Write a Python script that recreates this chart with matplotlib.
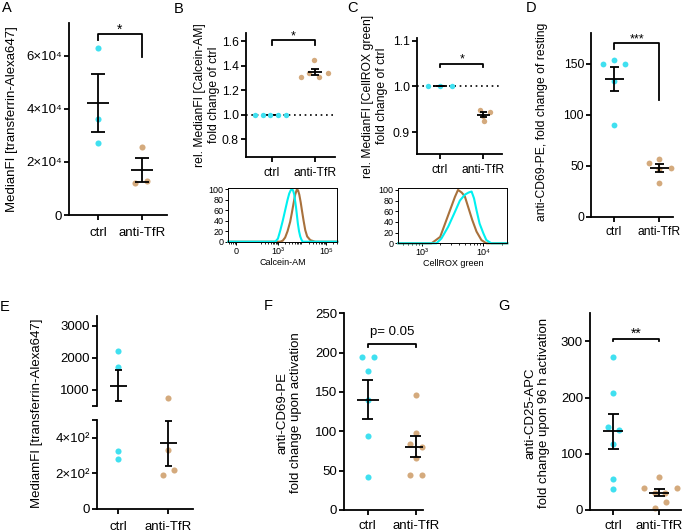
import numpy as np
import matplotlib
matplotlib.use('Agg')
import matplotlib.pyplot as plt
from matplotlib.ticker import FixedLocator, NullFormatter

plt.rcParams['font.family'] = ['Liberation Sans', 'DejaVu Sans']

groups = ['ctrl', 'anti-TfR']

# A: MedianFI transferrin-Alexa647
a_ctrl = [63100, 36300, 27300]
a_tfr = [25800, 12200, 12800]
# B: Calcein-AM, fold change of ctrl
b_ctrl = [1.0, 1.0, 1.0, 1.0, 1.0]
b_tfr = [1.443, 1.304, 1.337, 1.307, 1.343]
# C: CellROX green, fold change of ctrl
c_ctrl = [1.0, 1.0, 1.0]
c_tfr = [0.948, 0.944, 0.925, 0.936]
# D: anti-CD69-PE fold change of resting
d_ctrl = [150, 153.5, 149.6, 133.5, 89.6]
d_tfr = [52.5, 56.5, 48.2, 47, 33.5]
# E: transferrin-Alexa647 (broken axis)
e_ctrl = [2210, 1710, 325, 280]
e_tfr = [735, 330, 220, 190]
# F: anti-CD69-PE fold change upon activation
f_ctrl = [194, 194, 176.6, 139.3, 94.5, 42.4]
f_tfr = [146.6, 98, 84, 79.6, 65.5, 44.3, 44.3]
# G: anti-CD25-APC fold change upon 96 h activation
g_ctrl = [272.3, 208.8, 147.3, 142.7, 117, 54.6, 36.8]
g_tfr = [58, 39, 39.6, 30.2, 30.8, 13.6, 4]

# histograms (log10 fluorescence, % of max)
b_hist_ctrl_log = [2.89, 3.0, 3.10, 3.2, 3.30, 3.40, 3.47, 3.53, 3.58, 3.63, 3.68, 3.75, 3.80, 3.83, 3.88, 3.93, 3.98, 4.03]
b_hist_ctrl_y = [0, 6, 22, 40, 60, 80, 92, 98, 100, 98, 90, 67, 47, 35, 20, 10, 4, 0]
b_hist_tfr_log = [3.10, 3.2, 3.30, 3.4, 3.51, 3.58, 3.65, 3.72, 3.79, 3.84, 3.89, 3.95, 4.00, 4.07, 4.14, 4.22, 4.35, 4.55]
b_hist_tfr_y = [0, 2, 8, 20, 38, 55, 73, 90, 100, 98, 90, 75, 60, 40, 22, 10, 3, 0]
c_hist_ctrl_log = [3.24, 3.32, 3.43, 3.54, 3.62, 3.70, 3.76, 3.81, 3.85, 3.89, 3.94, 4.00, 4.05, 4.13]
c_hist_ctrl_y = [0, 9, 31, 59, 80, 91, 95, 97, 84, 62, 37, 19, 6, 0]
c_hist_tfr_log = [3.16, 3.30, 3.38, 3.46, 3.54, 3.59, 3.65, 3.70, 3.76, 3.82, 3.89, 3.97, 4.05]
c_hist_tfr_y = [0, 12, 37, 62, 87, 100, 95, 88, 66, 44, 22, 6, 0]

# horizontal spread of dots (layout only)
a_ctrl_dx = [0, 0, 0]
a_tfr_dx = [0, -0.15, 0.11]
b_ctrl_dx = [-0.38, -0.21, -0.04, 0.15, 0.33]
b_tfr_dx = [-0.02, -0.33, 0.30, 0.09, -0.14]
c_ctrl_dx = [-0.28, 0, 0.28]
c_tfr_dx = [-0.09, 0.14, 0.02, 0.0]
d_ctrl_dx = [-0.25, 0, 0.24, 0, 0]
d_tfr_dx = [-0.24, 0, 0.25, 0, 0]
e_ctrl_dx = [0, 0, 0, 0]
e_tfr_dx = [0, 0, 0.11, -0.11]
f_ctrl_dx = [-0.125, 0.125, 0, 0, 0, 0]
f_tfr_dx = [0, 0, -0.125, 0.125, 0, -0.125, 0.125]
g_ctrl_dx = [0, 0, -0.12, 0.13, 0, 0, 0]
g_tfr_dx = [0, -0.33, 0.39, -0.1, 0.13, 0.15, -0.1]

CYAN = '#40E0F0'
TAN = '#D4AA7D'
HCYAN = '#00F0F0'
HBROWN = '#A8713C'
LW = 1.3

W, H = 685, 532
fig = plt.figure(figsize=(W / 100, H / 100), dpi=100)


def add_ax(l, r, t, b):
    return fig.add_axes([l / W, 1 - b / H, (r - l) / W, (b - t) / H])


def style(ax, fs, xpad, xlim):
    ax.spines[['top', 'right']].set_visible(False)
    ax.spines[['left', 'bottom']].set_linewidth(LW)
    ax.tick_params(width=LW, length=3.5, labelsize=fs, pad=1.5)
    ax.tick_params(axis='x', pad=xpad)
    ax.set_xticks([0, 1], groups)
    ax.set_xlim(*xlim)


def dots(ax, x0, vals, dx, color, ms, clip=False):
    ax.plot(x0 + np.asarray(dx), vals, 'o', ms=ms, color=color, mec='none',
            zorder=2, clip_on=clip)


def mean_sem(ax, x0, vals, hm, hc, z=3):
    v = np.asarray(vals, float)
    m = v.mean()
    s = v.std(ddof=1) / np.sqrt(len(v))
    ax.hlines(m, x0 - hm, x0 + hm, color='k', lw=LW, zorder=z)
    ax.vlines(x0, m - s, m + s, color='k', lw=LW, zorder=z)
    ax.hlines([m - s, m + s], x0 - hc, x0 + hc, color='k', lw=LW, zorder=z)


def bracket(ax, y, yl, yr, label, fs, dy=0.5):
    ax.plot([0, 0, 1, 1], [yl, y, y, yr], color='k', lw=LW, clip_on=False)
    ax.annotate(label, (0.5, y), xytext=(0, dy), textcoords='offset points',
                ha='center', va='baseline', fontsize=fs)


def ylab(x, y, s, fs):
    fig.text(x / W, 1 - y / H, s, rotation=90, ha='center', va='center',
             fontsize=fs, linespacing=1.15)


def letter(x, y, s):
    fig.text(x / W, 1 - y / H, s, ha='center', va='center', fontsize=10.5)


# ---- A
ax = add_ax(69, 167, 23, 215)
style(ax, 9.5, 5, (-0.66, 1.57))
ax.set_ylim(0, 72400)
ax.set_yticks([0, 20000, 40000, 60000], ['0', '2×10⁴', '4×10⁴', '6×10⁴'])
dots(ax, 0, a_ctrl, a_ctrl_dx, CYAN, 4.4)
dots(ax, 1, a_tfr, a_tfr_dx, TAN, 4.4)
mean_sem(ax, 0, a_ctrl, 0.26, 0.16)
mean_sem(ax, 1, a_tfr, 0.26, 0.16)
bracket(ax, 68200, 66000, 59400, '*', 10)
ylab(12.5, 119, 'MedianFI [transferrin-Alexa647]', 9.5)

# ---- B
ax = add_ax(245.7, 335, 33, 156.7)
style(ax, 8.7, 4, (-0.6, 1.46))
ax.set_ylim(0.657, 1.666)
ax.set_yticks([0.8, 1.0, 1.2, 1.4, 1.6], ['0.8', '1.0', '1.2', '1.4', '1.6'])
ax.axhline(1.0, color='k', lw=1.2, ls=(0, (1, 2.2)), zorder=1)
mean_sem(ax, 0, b_ctrl, 0.16, 0.09, z=1)
dots(ax, 0, b_ctrl, b_ctrl_dx, CYAN, 3.9)
dots(ax, 1, b_tfr, b_tfr_dx, TAN, 3.9)
mean_sem(ax, 1, b_tfr, 0.16, 0.09)
bracket(ax, 1.606, 1.57, 1.57, '*', 9)
ylab(207, 95, 'rel. MedianFI [Calcein-AM]\nfold change of ctrl', 8.7)

# B histogram
ax = add_ax(228.3, 337.3, 188.3, 241.7)
ax.set_xscale('symlog', linthresh=100, linscale=0.666)
bx0, bx1 = -45, 3e5
for lg, yy, col in [(b_hist_tfr_log, b_hist_tfr_y, HBROWN), (b_hist_ctrl_log, b_hist_ctrl_y, HCYAN)]:
    xs = [bx0] + list(10 ** np.asarray(lg)) + [bx1]
    ys = [0] + list(yy) + [0]
    ax.plot(xs, ys, color=col, lw=1.5, clip_on=False)
ax.set_xticks([0, 1e3, 1e5], ['0', '10³', '10⁵'])
ax.xaxis.set_minor_locator(FixedLocator([-40, -30, -20, -10] +
                                        [k * 10 ** e for e in (2, 3, 4) for k in range(2, 10)] + [2e5, 3e5]))
ax.xaxis.set_minor_formatter(NullFormatter())
ax.set_xlim(bx0, bx1)
ax.set_ylim(0, 102)
ax.set_yticks([0, 20, 40, 60, 80, 100])
ax.tick_params(labelsize=6.5, length=2.5, width=0.7, pad=1)
ax.tick_params(which='minor', length=1.5, width=0.6)
for s in ax.spines.values():
    s.set_linewidth(0.7)
ax.set_xlabel('Calcein-AM', fontsize=6.5, labelpad=1.5)

# ---- C
ax = add_ax(416.7, 501.7, 38.3, 154.3)
style(ax, 8.7, 3.5, (-0.54, 1.42))
ax.set_ylim(0.852, 1.105)
ax.set_yticks([0.9, 1.0, 1.1], ['0.9', '1.0', '1.1'])
ax.axhline(1.0, color='k', lw=1.2, ls=(0, (1, 2.2)), zorder=1)
mean_sem(ax, 0, c_ctrl, 0.16, 0.09)
dots(ax, 0, c_ctrl, c_ctrl_dx, CYAN, 3.9)
dots(ax, 1, c_tfr, c_tfr_dx, TAN, 3.9)
mean_sem(ax, 1, c_tfr, 0.16, 0.09)
bracket(ax, 1.050, 1.043, 1.043, '*', 9)
ylab(375, 96, 'rel. MedianFI [CellROX green]\nfold change of ctrl', 8.7)

# C histogram
ax = add_ax(398.3, 507.3, 188.3, 243.3)
ax.set_xscale('log')
cx0, cx1 = 10 ** 2.62, 10 ** 4.39
for lg, yy, col in [(c_hist_tfr_log, c_hist_tfr_y, HBROWN), (c_hist_ctrl_log, c_hist_ctrl_y, HCYAN)]:
    xs = [cx0] + list(10 ** np.asarray(lg)) + [cx1]
    ys = [0] + list(yy) + [0]
    ax.plot(xs, ys, color=col, lw=1.5, clip_on=False)
ax.set_xticks([1e3, 1e4], ['10³', '10⁴'])
ax.xaxis.set_minor_formatter(NullFormatter())
ax.set_xlim(cx0, cx1)
ax.set_ylim(0, 103)
ax.set_yticks([0, 20, 40, 60, 80, 100])
ax.tick_params(labelsize=6.5, length=2.5, width=0.7, pad=1)
ax.tick_params(which='minor', length=1.5, width=0.6)
for s in ax.spines.values():
    s.set_linewidth(0.7)
ax.set_xlabel('CellROX green', fontsize=6.5, labelpad=1.5)

# ---- D
ax = add_ax(591, 673, 33.3, 216.7)
style(ax, 8.7, 3.5, (-0.51, 1.3))
ax.set_ylim(0, 180)
ax.set_yticks([0, 50, 100, 150])
dots(ax, 0, d_ctrl, d_ctrl_dx, CYAN, 4.2)
dots(ax, 1, d_tfr, d_tfr_dx, TAN, 4.2)
mean_sem(ax, 0, d_ctrl, 0.21, 0.1)
mean_sem(ax, 1, d_tfr, 0.21, 0.1)
bracket(ax, 170, 164.8, 114.9, '***', 9)
ylab(542, 122, 'anti-CD69-PE, fold change of resting', 8.7)

# ---- E (broken axis)
ax_u = add_ax(96.7, 192.7, 316, 405.7)
ax_l = add_ax(96.7, 192.7, 420, 508.7)
for ax in (ax_u, ax_l):
    style(ax, 9.5, 5, (-0.43, 1.49))
    dots(ax, 0, e_ctrl, e_ctrl_dx, CYAN, 4.4, clip=True)
    dots(ax, 1, e_tfr, e_tfr_dx, TAN, 4.4, clip=True)
mean_sem(ax_u, 0, e_ctrl, 0.17, 0.07)
mean_sem(ax_l, 1, e_tfr, 0.17, 0.07)
ax_u.set_ylim(500, 3310)
ax_u.set_yticks([500, 1000, 2000, 3000], ['', '1000', '2000', '3000'])
ax_u.spines['bottom'].set_visible(False)
ax_u.tick_params(axis='x', which='both', bottom=False, labelbottom=False)
ax_l.set_ylim(0, 500)
ax_l.set_yticks([0, 200, 400, 500], ['0', '2×10²', '4×10²', ''])
ylab(37.5, 413, 'MediamFI [transferrin-Alexa647]', 9.5)

# ---- F
ax = add_ax(344.3, 423.3, 313.3, 510)
style(ax, 9.5, 4, (-0.49, 1.16))
ax.set_ylim(0, 250)
ax.set_yticks([0, 50, 100, 150, 200, 250])
dots(ax, 0, f_ctrl, f_ctrl_dx, CYAN, 4.4)
dots(ax, 1, f_tfr, f_tfr_dx, TAN, 4.4)
mean_sem(ax, 0, f_ctrl, 0.23, 0.11)
mean_sem(ax, 1, f_tfr, 0.23, 0.11)
bracket(ax, 211, 206.7, 206.7, 'p= 0.05', 9.5, dy=6.5)
ylab(289, 413, 'anti-CD69-PE\nfold change upon activation', 9.5)

# ---- G
ax = add_ax(590, 680.7, 312.7, 510)
style(ax, 9.5, 4, (-0.51, 1.47))
ax.set_ylim(0, 351)
ax.set_yticks([0, 100, 200, 300])
dots(ax, 0, g_ctrl, g_ctrl_dx, CYAN, 4.4)
dots(ax, 1, g_tfr, g_tfr_dx, TAN, 4.4)
mean_sem(ax, 0, g_ctrl, 0.22, 0.12)
mean_sem(ax, 1, g_tfr, 0.22, 0.12)
bracket(ax, 305, 301, 301, '**', 10)
ylab(537, 413, 'anti-CD25-APC\nfold change upon 96 h activation', 9.5)

for x, y, s in [(7, 8, 'A'), (179, 9, 'B'), (353, 8, 'C'), (531, 8, 'D'),
                (5, 307, 'E'), (268, 306, 'F'), (504, 306, 'G')]:
    letter(x, y, s)

fig.savefig('out.png', dpi=100)
